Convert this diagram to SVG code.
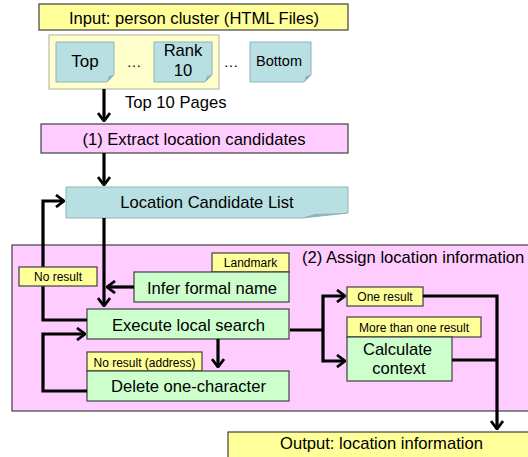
<svg xmlns="http://www.w3.org/2000/svg" width="528" height="457" viewBox="0 0 528 457">
<style>
text{font-family:"Liberation Sans",Arial,sans-serif;fill:#000}
.y{fill:#ffff99;stroke:#404040;stroke-width:1.2}
.p{fill:#ffccff;stroke:#404040;stroke-width:1.2}
.g{fill:#ccffcc;stroke:#404040;stroke-width:1.2}
.b{fill:#b8dfe2;stroke:#8fb3b6;stroke-width:1}
.f{fill:#8fb3b6}
.c{text-anchor:middle}
.t15{font-size:16.6px}.t11{font-size:12px}
.ln{fill:none;stroke:#000;stroke-width:3.2}
</style>
<defs>
<marker id="ah" viewBox="0 0 10 14" refX="9" refY="7" markerWidth="10" markerHeight="14" markerUnits="userSpaceOnUse" orient="auto">
<path d="M1,1 L9,7 L1,13" fill="none" stroke="#000" stroke-width="2.8"/>
</marker>
</defs>
<g id="region2">
<rect class="p" x="12" y="245" width="520" height="166"/>
<text class="t15" x="302" y="263">(2) Assign location information</text>
</g>
<g id="input">
<rect class="y" x="39" y="4" width="309" height="26"/>
<text class="t15 c" x="194" y="23.5">Input: person cluster (HTML Files)</text>
</g>
<g id="pages">
<rect x="49" y="35" width="170" height="54" fill="#ffffcc" stroke="#b0b0a0" stroke-width="1"/>
<path class="b" d="M56,42 H114 V75 L107,82 H56 Z"/><path class="f" d="M107,82 L109,76 L114,75 Z"/>
<text class="c" font-size="17" x="85" y="67">Top</text>
<text class="c" font-size="15" x="134" y="67">…</text>
<path class="b" d="M154,42 H212 V75 L205,82 H154 Z"/><path class="f" d="M205,82 L207,76 L212,75 Z"/>
<text class="c" font-size="16.6" x="183" y="56">Rank</text>
<text class="c" font-size="16.6" x="183" y="76">10</text>
<text class="c" font-size="15" x="231" y="67">…</text>
<path class="b" d="M250,42 H311 V75 L304,82 H250 Z"/><path class="f" d="M304,82 L306,76 L311,75 Z"/>
<text class="c" font-size="14.5" x="279" y="65.5">Bottom</text>
</g>
<g id="extract">
<rect class="p" x="41" y="124" width="307" height="29"/>
<text class="t15 c" x="194" y="145">(1) Extract location candidates</text>
</g>
<g id="lcl">
<path class="b" d="M66,187 H348 V213 L302,218 H66 Z"/><path class="f" d="M302,218 L315,214 L348,213 Z"/>
<text class="t15 c" x="207" y="207.5">Location Candidate List</text>
</g>
<g id="infer">
<rect class="y" x="212" y="253" width="77" height="19"/><text class="t11 c" x="250.5" y="267">Landmark</text>
<rect class="g" x="134" y="272" width="155" height="30"/><text class="t15 c" x="212" y="293.5">Infer formal name</text>
</g>
<g id="execute">
<rect class="g" x="87" y="309" width="202" height="30"/><text class="t15 c" x="188.5" y="330.5">Execute local search</text>
</g>
<g id="delete">
<rect class="y" x="87" y="352" width="115" height="19"/><text class="t11 c" x="144.5" y="366.5">No result (address)</text>
<rect class="g" x="87" y="371" width="202" height="30"/><text class="t15 c" x="188.5" y="392">Delete one-character</text>
</g>
<g id="oneresult"><rect class="y" x="347" y="287" width="76" height="19"/><text class="t11 c" x="385" y="301">One result</text></g>
<g id="calc">
<rect class="y" x="347" y="317" width="134" height="20"/><text class="t11 c" x="414" y="332">More than one result</text>
<rect class="g" x="347" y="337" width="105" height="44"/>
<text class="t15 c" x="397.5" y="355">Calculate</text><text class="t15 c" x="399" y="374">context</text>
</g>
<g id="output">
<rect class="y" x="228" y="432" width="304" height="26"/>
<text class="t15" x="280" y="449">Output: location information</text>
</g>
<text font-size="16.6" x="125" y="108">Top 10 Pages</text>
<g id="connectors">
<path class="ln" d="M104,89 V121" marker-end="url(#ah)"/>
<path class="ln" d="M104,153 V185" marker-end="url(#ah)"/>
<path class="ln" d="M104,218 V306" marker-end="url(#ah)"/>
<path class="ln" d="M87,320 H43 V201 H64" marker-end="url(#ah)"/>
<path class="ln" d="M134,287 H107" marker-end="url(#ah)"/>
<path class="ln" d="M218,339 V367" marker-end="url(#ah)"/>
<path class="ln" d="M87,391 H43 V334 H85" marker-end="url(#ah)"/>
<path class="ln" d="M290,330 H323"/>
<path class="ln" d="M323,330 V296 H345" marker-end="url(#ah)"/>
<path class="ln" d="M323,330 V361 H345" marker-end="url(#ah)"/>
<path class="ln" d="M423,296 H497 V429" marker-end="url(#ah)"/>
<path class="ln" d="M452,360 H497"/>
</g>
<g id="noresult"><rect class="y" x="19" y="267" width="78" height="19"/><text class="t11 c" x="58" y="281">No result</text></g>
</svg>
